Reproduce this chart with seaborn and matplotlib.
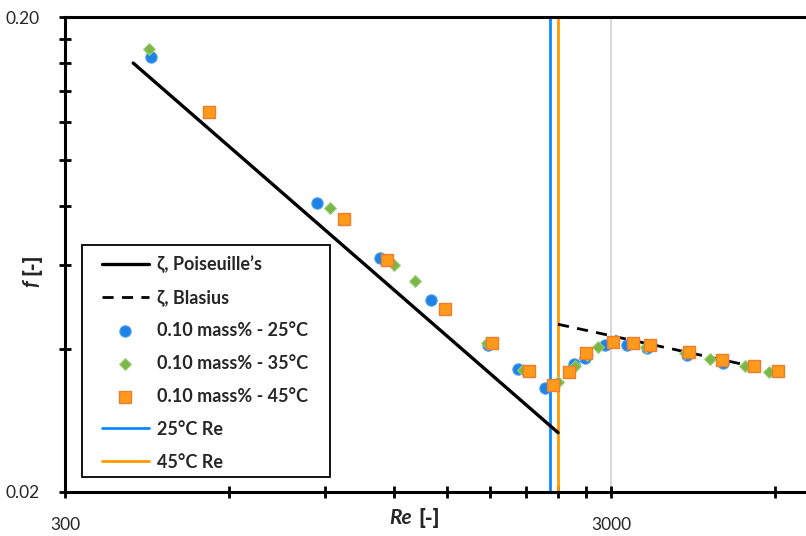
import numpy as np
import pandas as pd
import matplotlib
matplotlib.use("Agg")
import matplotlib.pyplot as plt
import matplotlib.ticker as mticker
from matplotlib.patches import Rectangle
import seaborn as sns

# ---------------- data ----------------
re_25 = [431, 868, 1133, 1404, 1786, 2027, 2271, 2567, 2689, 2925, 3210, 3492, 4134, 4812]
f_25 = [0.1647, 0.0812, 0.0622, 0.0507, 0.0408, 0.0363, 0.0331, 0.0372, 0.0383, 0.0408, 0.0408, 0.0402, 0.0389, 0.0374]

re_35 = [427, 917, 1202, 1313, 1778, 2070, 2399, 2578, 2711, 2840, 3477, 4099, 4556, 5280, 5841]
f_35 = [0.1713, 0.0793, 0.0601, 0.0556, 0.0412, 0.0361, 0.0341, 0.0368, 0.0389, 0.0404, 0.0404, 0.0392, 0.0381, 0.0368, 0.0358]

re_45 = [551, 973, 1166, 1490, 1816, 2123, 2349, 2513, 2700, 3025, 3291, 3537, 4170, 4792, 5484, 6068]
f_45 = [0.1262, 0.0751, 0.0616, 0.0486, 0.0412, 0.0360, 0.0336, 0.0358, 0.0392, 0.0414, 0.0412, 0.0408, 0.0394, 0.0379, 0.0368, 0.0360]

re_poiseuille = [400, 2400]
f_poiseuille = [0.16, 0.02667]

re_blasius = [2400, 6000]
f_blasius = [0.0451, 0.0359]

re_crit_25 = 2320
re_crit_45 = 2400

x_major_ticks = [300, 3000]
x_major_labels = ["300", "3000"]
x_minor_ticks = [600, 900, 1200, 1500, 1800, 2100, 2400, 2700, 6000]
y_major_ticks = [0.02, 0.2]
y_major_labels = ["0.02", "0.20"]
y_minor_ticks = [0.04, 0.06, 0.08, 0.10, 0.12, 0.14, 0.16, 0.18]

legend_labels = ["ζ, Poiseuille’s", "ζ, Blasius", "0.10 mass% - 25°C",
                 "0.10 mass% - 35°C", "0.10 mass% - 45°C", "25°C Re", "45°C Re"]

# ---------------- style ----------------
sns.set_theme(style="white")
plt.rcParams["font.family"] = ["Lato", "DejaVu Sans"]

W, H = 806, 536
fig = plt.figure(figsize=(W / 100, H / 100), dpi=100)
ax = fig.add_axes([65 / W, 1 - 492 / H, (W - 65) / W, (492 - 17) / H])

c_blue = "#1E82E6"
c_green = "#7AB648"
c_orange = "#FF9A1A"
c_orange_edge = "#ED7D31"

# gridline at 3000
ax.axvline(3000, color="#d9d9d9", lw=1.5, zorder=0)

p_df = pd.DataFrame({"Re": re_poiseuille, "f": f_poiseuille})
b_df = pd.DataFrame({"Re": re_blasius, "f": f_blasius})
sns.lineplot(data=p_df, x="Re", y="f", ax=ax, color="black", lw=2.4, label=legend_labels[0], zorder=3)
sns.lineplot(data=b_df, x="Re", y="f", ax=ax, color="black", lw=2.0, label=legend_labels[1], zorder=3)
ax.lines[-1].set_dashes((4, 3))

d25 = pd.DataFrame({"Re": re_25, "f": f_25})
d35 = pd.DataFrame({"Re": re_35, "f": f_35})
d45 = pd.DataFrame({"Re": re_45, "f": f_45})
sns.scatterplot(data=d25, x="Re", y="f", ax=ax, marker="o", s=66, color=c_blue,
                edgecolor="#4a9cf0", linewidth=0.8, label=legend_labels[2], zorder=4)
sns.scatterplot(data=d35, x="Re", y="f", ax=ax, marker="D", s=36, color=c_green,
                edgecolor="#9ccf70", linewidth=0.8, label=legend_labels[3], zorder=5)
sns.scatterplot(data=d45, x="Re", y="f", ax=ax, marker="s", s=84, color=c_orange,
                edgecolor=c_orange_edge, linewidth=1.0, label=legend_labels[4], zorder=6)

ax.axvline(re_crit_25, color="#0A8CFF", lw=2.0, label=legend_labels[5], zorder=2)
ax.axvline(re_crit_45, color="#FF9900", lw=2.0, label=legend_labels[6], zorder=2)

ax.set_xscale("log")
ax.set_yscale("log")
ax.set_xlim(300, 6830)
ax.set_ylim(0.02, 0.2)

ax.xaxis.set_major_locator(mticker.FixedLocator(x_major_ticks))
ax.xaxis.set_major_formatter(mticker.FixedFormatter(x_major_labels))
ax.xaxis.set_minor_locator(mticker.FixedLocator(x_minor_ticks))
ax.xaxis.set_minor_formatter(mticker.NullFormatter())
ax.yaxis.set_major_locator(mticker.FixedLocator(y_major_ticks))
ax.yaxis.set_major_formatter(mticker.FixedFormatter(y_major_labels))
ax.yaxis.set_minor_locator(mticker.FixedLocator(y_minor_ticks))
ax.yaxis.set_minor_formatter(mticker.NullFormatter())

ax.tick_params(axis="both", which="both", direction="inout", length=8, width=2, color="black",
               labelsize=12.5, labelcolor="#262626")
ax.tick_params(axis="x", which="both", pad=14, bottom=True, top=False)
ax.tick_params(axis="y", which="both", pad=14, left=True, right=False)

for side in ["left", "bottom", "top"]:
    ax.spines[side].set_color("black")
    ax.spines[side].set_linewidth(2.2)
ax.spines["right"].set_visible(False)

ax.set_xlabel("")
ax.set_ylabel("")
# axis labels (bold-italic symbol + bold unit)
fig.text(412 / W, 1 - 518 / H, "Re", fontsize=15, fontweight="bold", fontstyle="italic",
         ha="right", va="center")
fig.text(418 / W, 1 - 518 / H, "[-]", fontsize=15, fontweight="heavy", ha="left", va="center")
fig.text(31 / W, 1 - 284 / H, "f", fontsize=15, fontweight="bold", fontstyle="italic",
         ha="center", va="center", rotation=90)
fig.text(31 / W, 1 - 275 / H, "[-]", fontsize=15, fontweight="heavy",
         ha="center", va="bottom", rotation=90)

# legend frame drawn separately
frame = Rectangle((82 / W, 1 - 477 / H), (330 - 82) / W, (477 - 245) / H,
                  transform=fig.transFigure, facecolor="white", edgecolor="black",
                  lw=1.3, zorder=7)
ax.add_patch(frame)
frame.set_clip_on(False)

handles, labels = ax.get_legend_handles_labels()
order = [labels.index(l) for l in legend_labels]
leg = ax.legend([handles[i] for i in order], [labels[i] for i in order],
                loc="upper left", bbox_to_anchor=(102 / W, 1 - 255.5 / H),
                bbox_transform=fig.transFigure,
                frameon=False, prop={"weight": "bold", "size": 13},
                handlelength=2.6, labelspacing=0.88,
                borderpad=0, handletextpad=0.45, borderaxespad=0)
leg.set_zorder(8)

fig.savefig("out.png", dpi=100)
